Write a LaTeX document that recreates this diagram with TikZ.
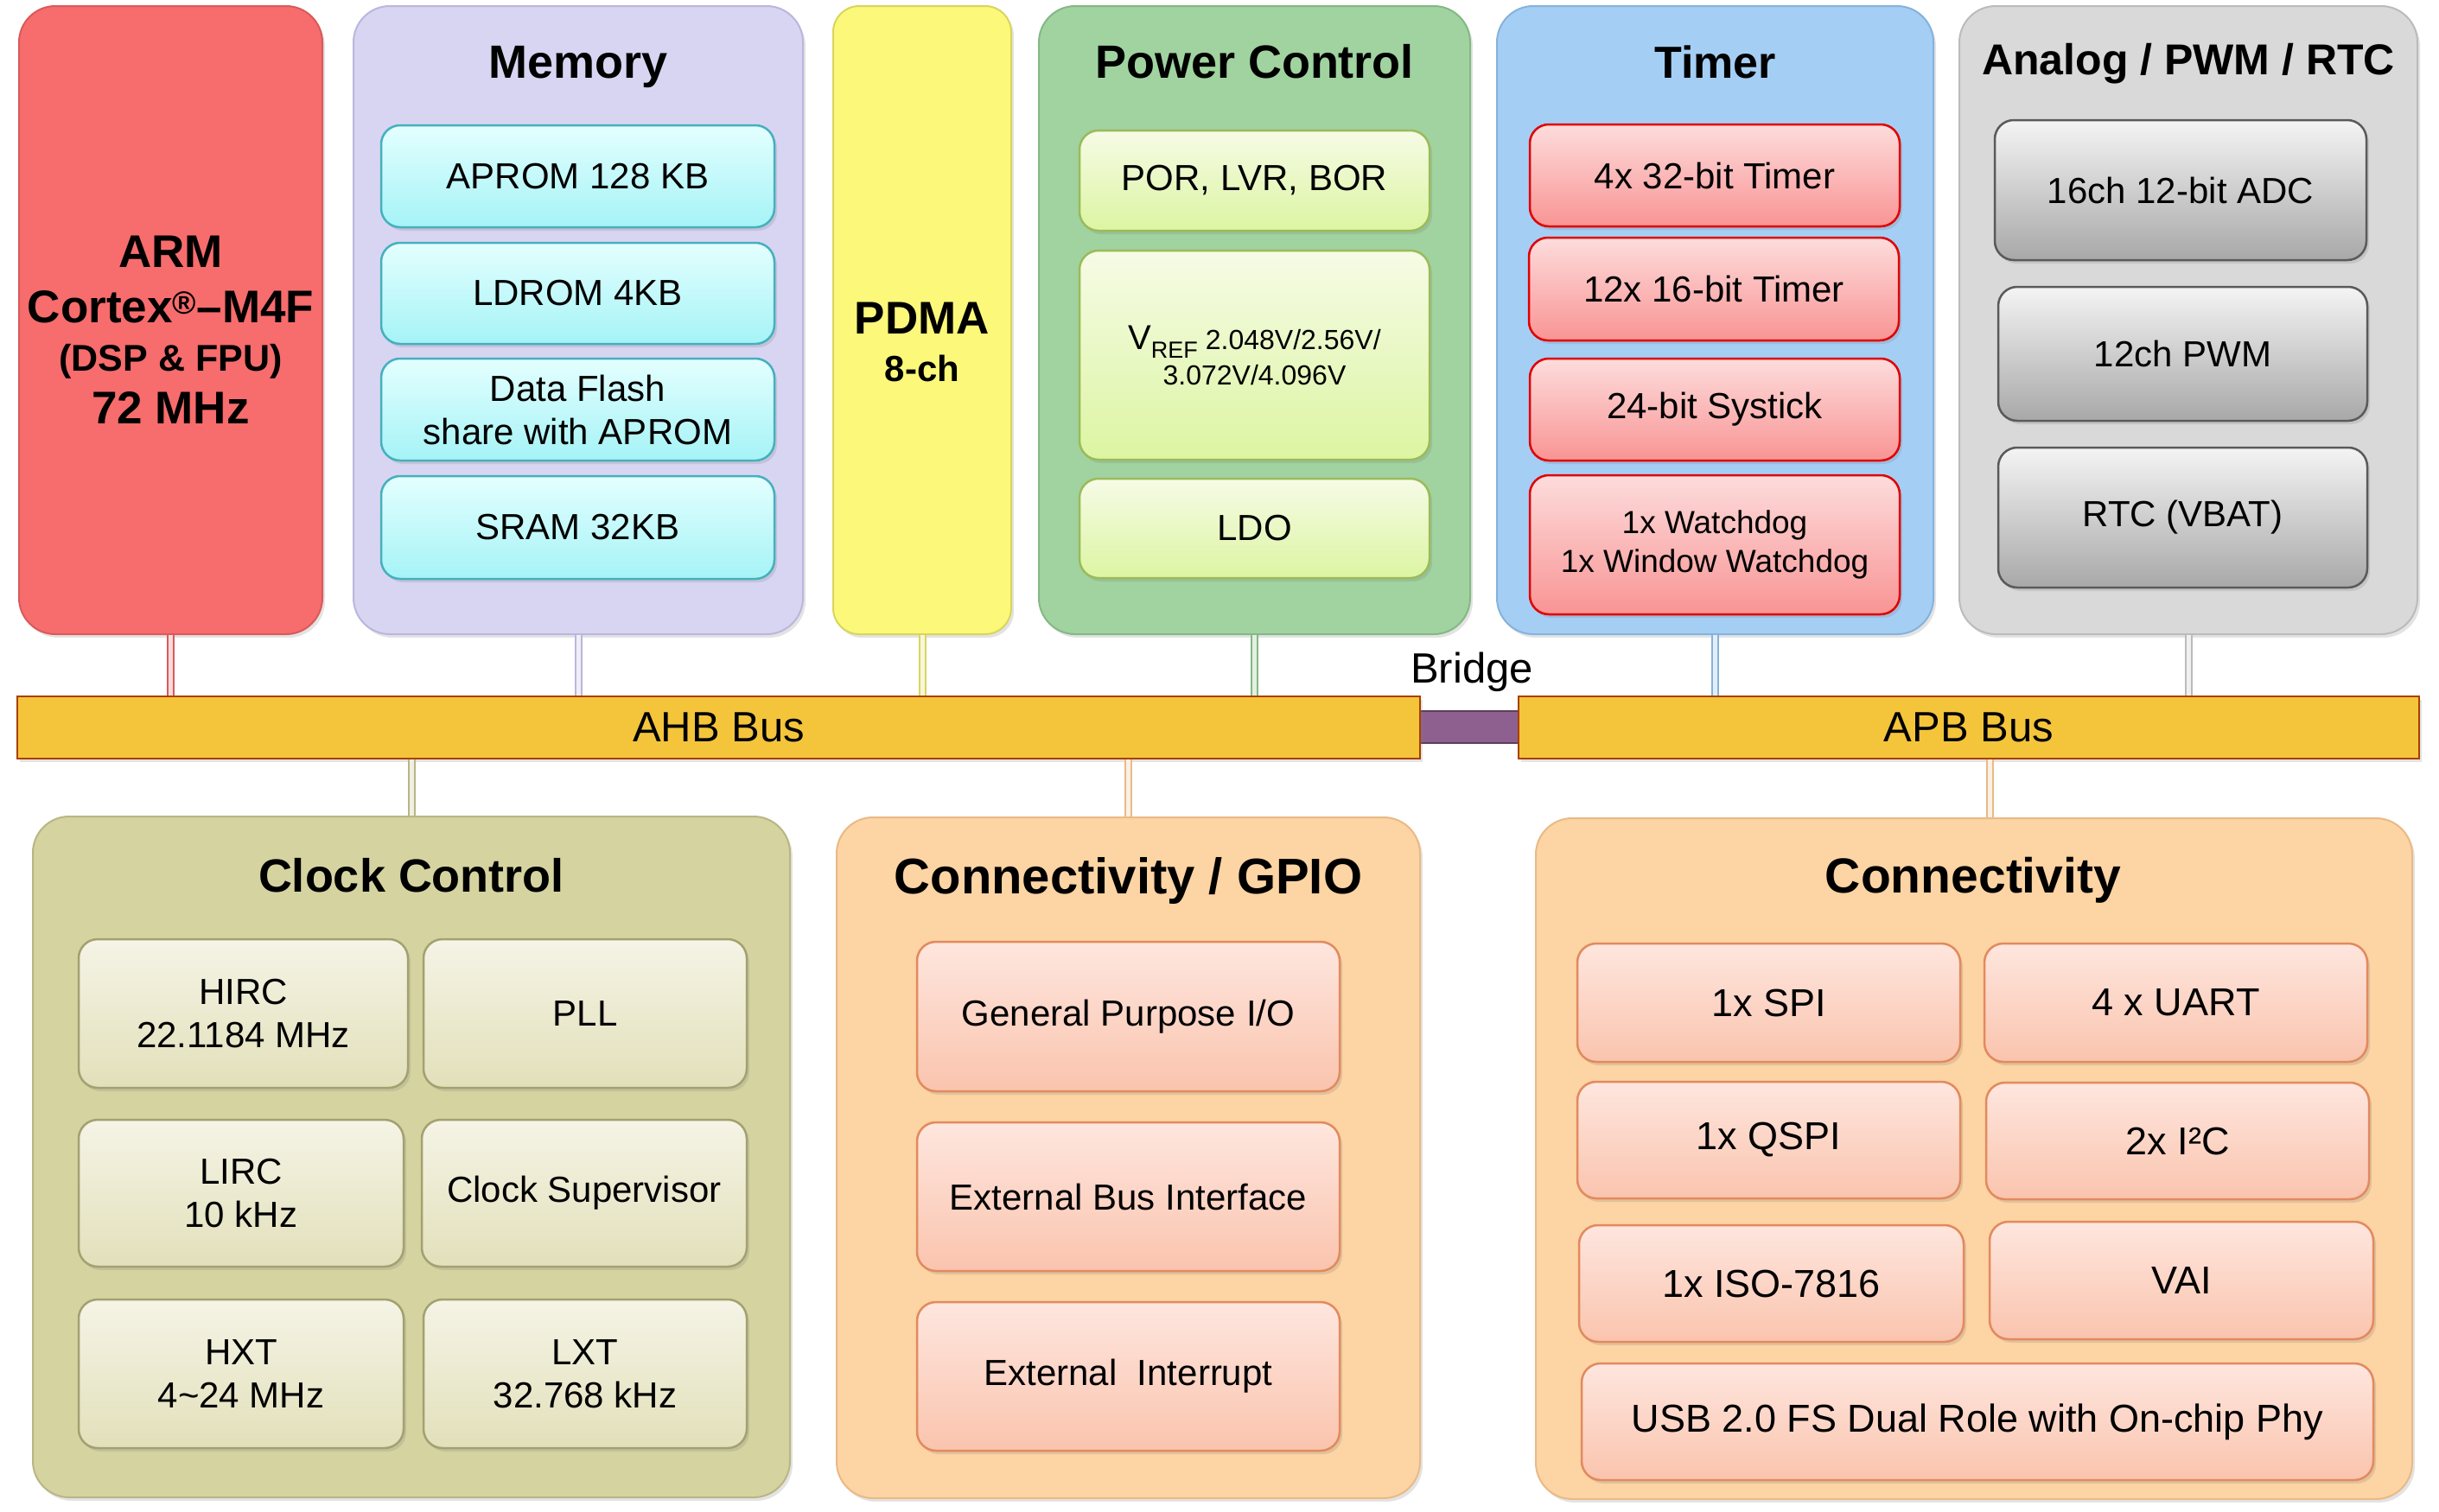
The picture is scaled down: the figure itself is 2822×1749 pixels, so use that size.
\documentclass[tikz,border=0pt]{standalone}
\usepackage{fontspec}
\setmainfont{Liberation Sans}
\usetikzlibrary{shadows}
% outer fills / borders
\definecolor{armF}{HTML}{F76C6C}\definecolor{armD}{HTML}{D95A5A}
\definecolor{memF}{HTML}{D8D5F2}\definecolor{memD}{HTML}{BAB6DD}
\definecolor{pdmF}{HTML}{FBF87A}\definecolor{pdmD}{HTML}{D8D55E}
\definecolor{pwrF}{HTML}{A0D3A0}\definecolor{pwrD}{HTML}{84B884}
\definecolor{tmrF}{HTML}{A5CEF5}\definecolor{tmrD}{HTML}{86B2DC}
\definecolor{anaF}{HTML}{D9D9D9}\definecolor{anaD}{HTML}{BBBBBB}
\definecolor{clkF}{HTML}{D5D4A1}\definecolor{clkD}{HTML}{B8B684}
\definecolor{gpoF}{HTML}{FDD4A3}\definecolor{gpoD}{HTML}{E9BA86}
\definecolor{busF}{HTML}{F4C53A}\definecolor{busD}{HTML}{A84000}
\definecolor{brgF}{HTML}{8E6090}\definecolor{brgD}{HTML}{5C3F5C}
% inner gradients
\definecolor{memT}{HTML}{E4FFFF}\definecolor{memB}{HTML}{A5F3F6}\definecolor{memL}{HTML}{45B0BE}
\definecolor{pwrT}{HTML}{F6FBE6}\definecolor{pwrB}{HTML}{DCF5A2}\definecolor{pwrL}{HTML}{9BBB59}
\definecolor{tmrT}{HTML}{FDDCDC}\definecolor{tmrB}{HTML}{F99494}\definecolor{tmrL}{HTML}{E00000}
\definecolor{anaT}{HTML}{F4F4F4}\definecolor{anaB}{HTML}{A8A8A8}\definecolor{anaL}{HTML}{5A5A5A}
\definecolor{clkT}{HTML}{F5F4E6}\definecolor{clkB}{HTML}{E2E0BA}\definecolor{clkL}{HTML}{A3A171}
\definecolor{gpoT}{HTML}{FEE6DE}\definecolor{gpoB}{HTML}{FAC4AE}\definecolor{gpoL}{HTML}{E28A5E}
\begin{document}
\begin{tikzpicture}[x=1pt,y=-1pt,
  shd/.style={drop shadow={shadow xshift=3pt, shadow yshift=-4pt, opacity=0.22}},
  wh/.style 2 args={minimum width=#1pt, minimum height=#2pt},
  outerbox/.style 2 args={rectangle, rounded corners=42pt, fill=#1, draw=#2, line width=2pt, shd, inner sep=0pt},
  innerbox/.style n args={3}{rectangle, rounded corners=22pt, top color=#1, bottom color=#2, draw=#3, line width=2.5pt, shd, align=center, inner sep=0pt, font=\fontsize{42}{50}\selectfont},
  cbox/.style={innerbox={gpoT}{gpoB}{gpoL}, font=\fontsize{45}{50}\selectfont},
  ttl/.style={anchor=base, font=\bfseries\fontsize{#1}{#1}\selectfont, inner sep=0pt},
  bus/.style={rectangle, fill=busF, draw=busD, line width=2.5pt, inner sep=0pt, shd, font=\fontsize{49}{49}\selectfont},
  cn/.style={line width=2pt, draw=#1, double=#1!22!white, double distance=5pt}
]
\useasboundingbox (0,0) rectangle (2822,1749);

% ---------- top row outer boxes ----------
\node[outerbox={armF}{armD}, wh={351}{727}] (arm) at (197.5,370.5) {};
\node[outerbox={memF}{memD}, wh={520}{727}] (mem) at (669,370.5) {};
\node[outerbox={pdmF}{pdmD}, wh={206}{727}, rounded corners=30pt] (pdma) at (1067,370.5) {};
\node[outerbox={pwrF}{pwrD}, wh={499}{727}] (pwr) at (1451.5,370.5) {};
\node[outerbox={tmrF}{tmrD}, wh={505}{727}] (tmr) at (1984.5,370.5) {};
\node[outerbox={anaF}{anaD}, wh={530}{727}] (ana) at (2532,370.5) {};

% ARM text
\node[ttl=53] (arm1) at (197.5,309) {ARM};
\node[ttl=53] (arm2) at (197.5,373) {Cortex\textsuperscript{®}–M4F};
\node[ttl=43] (arm3) at (197.5,429) {(DSP \& FPU)};
\node[ttl=53] (arm4) at (197.5,490) {72 MHz};
% PDMA text
\node[ttl=53] (pdma1) at (1067,386) {PDMA};
\node[ttl=42] (pdma2) at (1067,441) {8-ch};

% titles
\node[ttl=54] (memt) at (669,90) {Memory};
\node[ttl=54] (pwrt) at (1451.5,90) {Power Control};
\node[ttl=52] (tmrt) at (1984.5,90) {Timer};
\node[ttl=50] (anat) at (2532,86) {Analog / PWM / RTC};

% Memory inner
\node[innerbox={memT}{memB}{memL}, wh={455}{118}] (aprom) at (668.5,204) {APROM 128 KB};
\node[innerbox={memT}{memB}{memL}, wh={455}{117}] (ldrom) at (668.5,339.5) {LDROM 4KB};
\node[innerbox={memT}{memB}{memL}, wh={455}{118}] (dflash) at (668.5,474) {Data Flash\\share with APROM};
\node[innerbox={memT}{memB}{memL}, wh={455}{119}] (sram) at (668.5,610.5) {SRAM 32KB};

% Power inner
\node[innerbox={pwrT}{pwrB}{pwrL}, wh={405}{116}] (por) at (1451.5,209) {POR, LVR, BOR};
\node[innerbox={pwrT}{pwrB}{pwrL}, wh={405}{242}, font=\fontsize{32}{41}\selectfont] (vref) at (1451.5,411)
  {{\fontsize{40}{40}\selectfont V}{\fontsize{27}{27}\selectfont\raisebox{-10pt}{REF}} 2.048V/2.56V/\\3.072V/4.096V};
\node[innerbox={pwrT}{pwrB}{pwrL}, wh={405}{115}] (ldo) at (1451.5,611.5) {LDO};

% Timer inner
\node[innerbox={tmrT}{tmrB}{tmrL}, wh={428}{118}] (t32) at (1984,203) {4x 32-bit Timer};
\node[innerbox={tmrT}{tmrB}{tmrL}, wh={428}{119}] (t16) at (1983,334.5) {12x 16-bit Timer};
\node[innerbox={tmrT}{tmrB}{tmrL}, wh={428}{118}] (systick) at (1984,474) {24-bit Systick};
\node[innerbox={tmrT}{tmrB}{tmrL}, wh={428}{161}, font=\fontsize{37}{45}\selectfont] (wdt) at (1984,630.5) {1x Watchdog\\1x Window Watchdog};

% Analog inner
\node[innerbox={anaT}{anaB}{anaL}, wh={430}{162}] (adc) at (2523,220) {16ch 12-bit ADC};
\node[innerbox={anaT}{anaB}{anaL}, wh={427}{155}] (pwm) at (2525.5,409.5) {12ch PWM};
\node[innerbox={anaT}{anaB}{anaL}, wh={427}{162}] (rtc) at (2525.5,599) {RTC (VBAT)};

% ---------- buses ----------
\node[rectangle, fill=brgF, draw=brgD, line width=2pt, wh={120}{37}] (brg) at (1699.5,841.5) {};
\node[bus, wh={1623}{72}] (ahb) at (831.5,842) {AHB Bus};
\node[bus, wh={1042}{72}] (apb) at (2278,842) {APB Bus};
\node[anchor=base, inner sep=0pt, font=\fontsize{49}{49}\selectfont] (brgt) at (1703,790) {Bridge};

% ---------- bottom row outer boxes ----------
\node[outerbox={clkF}{clkD}, wh={876}{788}] (clk) at (476,1339) {};
\node[outerbox={gpoF}{gpoD}, wh={675}{788}] (gpio) at (1305.5,1340) {};
\node[outerbox={gpoF}{gpoD}, wh={1014}{788}] (conn) at (2284,1341) {};

\node[ttl=54] (clkt) at (476,1032) {Clock Control};
\node[ttl=58] (gpiot) at (1305.5,1034) {Connectivity / GPIO};
\node[ttl=57] (connt) at (2283,1033) {Connectivity};

% Clock inner
\node[innerbox={clkT}{clkB}{clkL}, wh={381}{172}] (hirc) at (281.5,1173) {HIRC\\22.1184 MHz};
\node[innerbox={clkT}{clkB}{clkL}, wh={374}{172}] (pll) at (677,1173) {PLL};
\node[innerbox={clkT}{clkB}{clkL}, wh={376}{170}] (lirc) at (279,1381) {LIRC\\10 kHz};
\node[innerbox={clkT}{clkB}{clkL}, wh={376}{170}] (csup) at (676,1381) {Clock Supervisor};
\node[innerbox={clkT}{clkB}{clkL}, wh={376}{172}] (hxt) at (279,1590) {HXT\\4\textasciitilde 24 MHz};
\node[innerbox={clkT}{clkB}{clkL}, wh={374}{172}] (lxt) at (677,1590) {LXT\\32.768 kHz};

% GPIO inner
\node[innerbox={gpoT}{gpoB}{gpoL}, wh={489}{173}] (gpo1) at (1305.5,1176.5) {General Purpose I/O};
\node[innerbox={gpoT}{gpoB}{gpoL}, wh={489}{172}] (ebi) at (1305.5,1385) {External Bus Interface};
\node[innerbox={gpoT}{gpoB}{gpoL}, wh={489}{172}] (eint) at (1305.5,1593) {External\ \ Interrupt};

% Connectivity inner
\node[cbox, wh={443}{137}] (spi) at (2046.5,1160.5) {1x SPI};
\node[cbox, wh={443}{137}] (uart) at (2517.5,1160.5) {4 x UART};
\node[cbox, wh={443}{135}] (qspi) at (2046.5,1319.5) {1x QSPI};
\node[cbox, wh={443}{135}] (i2c) at (2519.5,1320.5) {2x I²C};
\node[cbox, wh={445}{135}] (iso) at (2049.5,1485.5) {1x ISO-7816};
\node[cbox, wh={444}{136}] (vai) at (2524,1482) {VAI};
\node[cbox, wh={916}{135}] (usb) at (2288,1645.5) {USB 2.0 FS Dual Role with On-chip Phy};

% ---------- connectors ----------
\coordinate (cx9) at (2302,0);
\draw[cn=armD] (arm.south) -- (arm.south |- ahb.north);
\draw[cn=memD] (mem.south) -- (mem.south |- ahb.north);
\draw[cn=pdmD] (pdma.south) -- (pdma.south |- ahb.north);
\draw[cn=pwrD] (pwr.south) -- (pwr.south |- ahb.north);
\draw[cn=tmrD] (tmr.south) -- (tmr.south |- apb.north);
\draw[cn=anaD] (ana.south) -- (ana.south |- apb.north);
\draw[cn=clkD] (ahb.south -| clk.north) -- (clk.north);
\draw[cn=gpoD] (ahb.south -| gpio.north) -- (gpio.north);
\draw[cn=gpoD] (apb.south -| cx9) -- (conn.north -| cx9);
\end{tikzpicture}
\end{document}
